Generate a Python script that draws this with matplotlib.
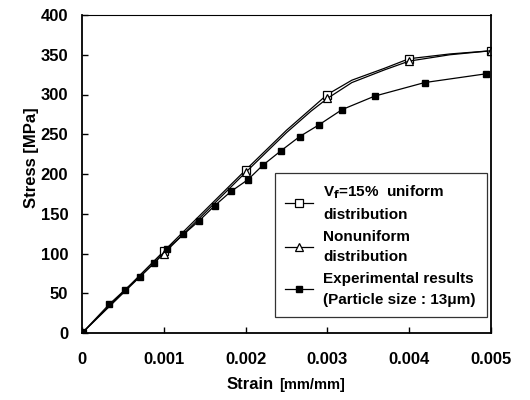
import matplotlib
matplotlib.use('Agg')
import matplotlib.pyplot as plt

plt.rcParams['font.family'] = ['Liberation Sans', 'DejaVu Sans']
plt.rcParams['font.weight'] = 'bold'

# simulation, uniform distribution (markers at every 0.001)
uni_strain = [0, 0.001, 0.002, 0.0025, 0.0028, 0.003, 0.0033, 0.0037, 0.004, 0.0045, 0.005]
uni_stress = [0, 103, 205, 255, 282, 300, 318, 333, 345, 351, 355]
uni_marks = [0, 1, 2, 5, 8, 10]

# simulation, nonuniform distribution
non_strain = [0, 0.001, 0.002, 0.0025, 0.0028, 0.003, 0.0033, 0.0037, 0.004, 0.0045, 0.005]
non_stress = [0, 100, 202, 252, 279, 295, 315, 331, 342, 350, 355]
non_marks = [0, 1, 2, 5, 8, 10]

# experiment
exp_strain = [0, 0.00033, 0.00052, 0.00071, 0.00088, 0.00104, 0.00124, 0.00143,
              0.00162, 0.00182, 0.00203, 0.00221, 0.00243, 0.00266, 0.0029,
              0.00318, 0.00358, 0.00419, 0.00494]
exp_stress = [0, 36, 54, 71, 88, 106, 124, 141, 160, 178, 193, 211, 229, 247,
              262, 281, 298, 315, 326]

fig = plt.figure(figsize=(5.3, 4), dpi=100)
ax = fig.add_axes([0.155, 0.1675, 0.771, 0.795])

ax.plot(uni_strain, uni_stress, color='black', lw=0.9, marker='s', markevery=uni_marks,
        ms=5.5, mfc='white', mec='black', mew=0.9,
        label='V$_{\\mathbf{f}}$=15%  uniform\ndistribution')
ax.plot(non_strain, non_stress, color='black', lw=0.9, marker='^', markevery=non_marks,
        ms=6, mfc='white', mec='black', mew=0.9,
        label='Nonuniform\ndistribution')
ax.plot(exp_strain, exp_stress, color='black', lw=0.9, marker='s', ms=4.5,
        mfc='black', mec='black',
        label='Experimental results\n(Particle size : 13μm)')

ax.set_xlim(0, 0.005)
ax.set_ylim(0, 400)
ax.set_xticks([0, 0.001, 0.002, 0.003, 0.004, 0.005])
ax.set_xticklabels(['0', '0.001', '0.002', '0.003', '0.004', '0.005'])
ax.set_yticks(range(0, 401, 50))
ax.tick_params(direction='in', labelsize=12, length=4, width=1)
ax.tick_params(axis='x', pad=14)
ax.tick_params(axis='y', pad=10)
for lab in ax.get_xticklabels() + ax.get_yticklabels():
    lab.set_fontweight('bold')
for s in ax.spines.values():
    s.set_linewidth(1.3)
ax.spines['top'].set_linewidth(0.8)

ax.set_ylabel('Stress [MPa]', fontsize=12, fontweight='bold')
ax.yaxis.set_label_coords(-0.105, 0.55)

# x label: "Strain" larger, unit smaller, same baseline
fig.text(227 / 530, 0.028, 'Strain', fontsize=12, fontweight='bold', ha='left', va='baseline')
fig.text(279 / 530, 0.028, '[mm/mm]', fontsize=10.5, fontweight='bold', ha='left', va='baseline')

leg = ax.legend(loc='upper right', bbox_to_anchor=(0.99, 0.503), fontsize=11,
                frameon=True, fancybox=False, edgecolor='black', handlelength=1.8,
                handletextpad=0.7, labelspacing=0.5, borderpad=0.7, borderaxespad=0)
leg.get_frame().set_linewidth(0.9)
for t in leg.get_texts():
    t.set_fontweight('bold')
    t.set_linespacing(1.6)

fig.savefig('out.png', dpi=100)
